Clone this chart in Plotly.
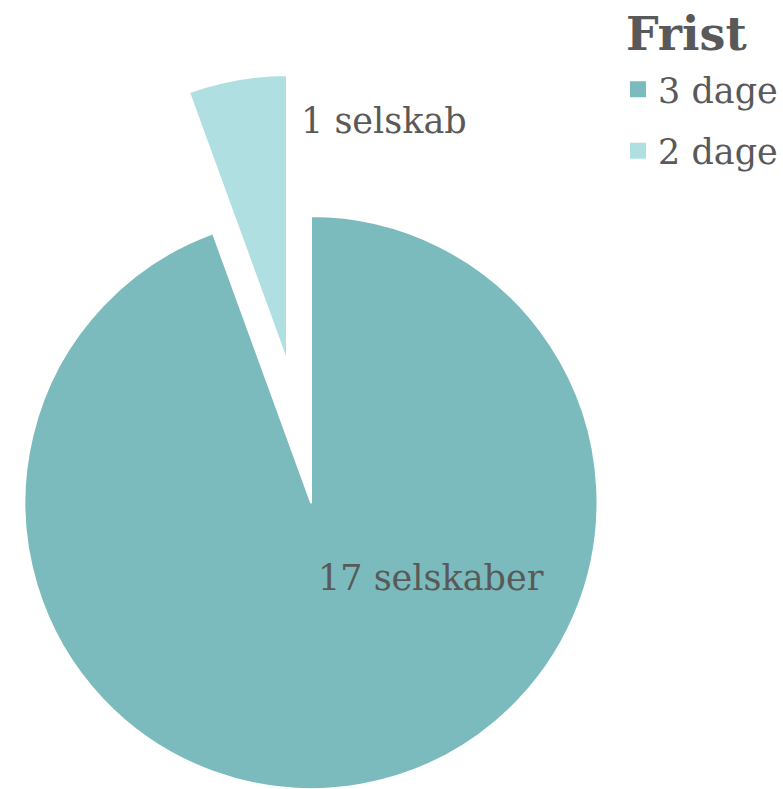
import plotly.graph_objects as go

labels = ["3 dage", "2 dage"]
values = [17, 1]
slice_text = ["17 selskaber", "1 selskab"]
colors = ["#7BBBBD", "#B0DFE2"]
legend_title = "Frist"

W, H = 783, 789
FONT = "Georgia, 'DejaVu Serif', serif"
TXT = "#595959"

def px_dom(x0, x1, y0, y1):
    return dict(x=[max(0, x0 / W), min(1, x1 / W)], y=[max(0, 1 - y1 / H), min(1, 1 - y0 / H)])

fig = go.Figure()

# main pie (only "3 dage" visible)
fig.add_trace(go.Pie(
    labels=labels, values=values, sort=False, direction="clockwise", rotation=0,
    marker=dict(colors=[colors[0], "rgba(0,0,0,0)"], line=dict(color=["white", "rgba(0,0,0,0)"], width=2)),
    textinfo="none", hoverinfo="label+value", showlegend=False,
    domain=px_dom(23, 599, 216, 789),
))
# pulled-out slice ("2 dage")
fig.add_trace(go.Pie(
    labels=labels, values=values, sort=False, direction="clockwise", rotation=0,
    marker=dict(colors=["rgba(0,0,0,0)", colors[1]], line=dict(color=["rgba(0,0,0,0)", "white"], width=2)),
    textinfo="none", hoverinfo="label+value", showlegend=False,
    domain=px_dom(0, 574, 75, 648),
))

# legend entries
for i, (lab, col) in enumerate(zip(labels, colors)):
    fig.add_trace(go.Scatter(
        x=[None], y=[None], mode="markers", name=lab, legendgroup=lab,
        marker=dict(symbol="square", size=18, color=col),
    ))

# legend title
fig.add_annotation(text="<b>" + legend_title + "</b>", x=624 / W, y=1 - 34 / H, xref="paper", yref="paper",
                   xanchor="left", yanchor="middle", showarrow=False,
                   font=dict(family=FONT, size=46, color=TXT))

fig.add_annotation(text=slice_text[1], x=299 / W, y=1 - 121 / H, xref="paper", yref="paper",
                   xanchor="left", yanchor="middle", showarrow=False,
                   font=dict(family=FONT, size=35, color=TXT))
fig.add_annotation(text=slice_text[0], x=316 / W, y=1 - 578 / H, xref="paper", yref="paper",
                   xanchor="left", yanchor="middle", showarrow=False,
                   font=dict(family=FONT, size=35, color=TXT))

fig.update_layout(
    width=W, height=H,
    margin=dict(l=0, r=0, t=0, b=0),
    paper_bgcolor="white", plot_bgcolor="white",
    xaxis=dict(visible=False), yaxis=dict(visible=False),
    showlegend=True,
    legend=dict(
        x=618 / W, y=1 - 60 / H, xanchor="left", yanchor="top",
        font=dict(family=FONT, size=35, color=TXT),
        traceorder="grouped", tracegroupgap=13,
        bgcolor="rgba(0,0,0,0)",
    ),
)

fig.write_html("out.html", config={"displayModeBar": False},
               post_script="document.body.style.margin='0';")
